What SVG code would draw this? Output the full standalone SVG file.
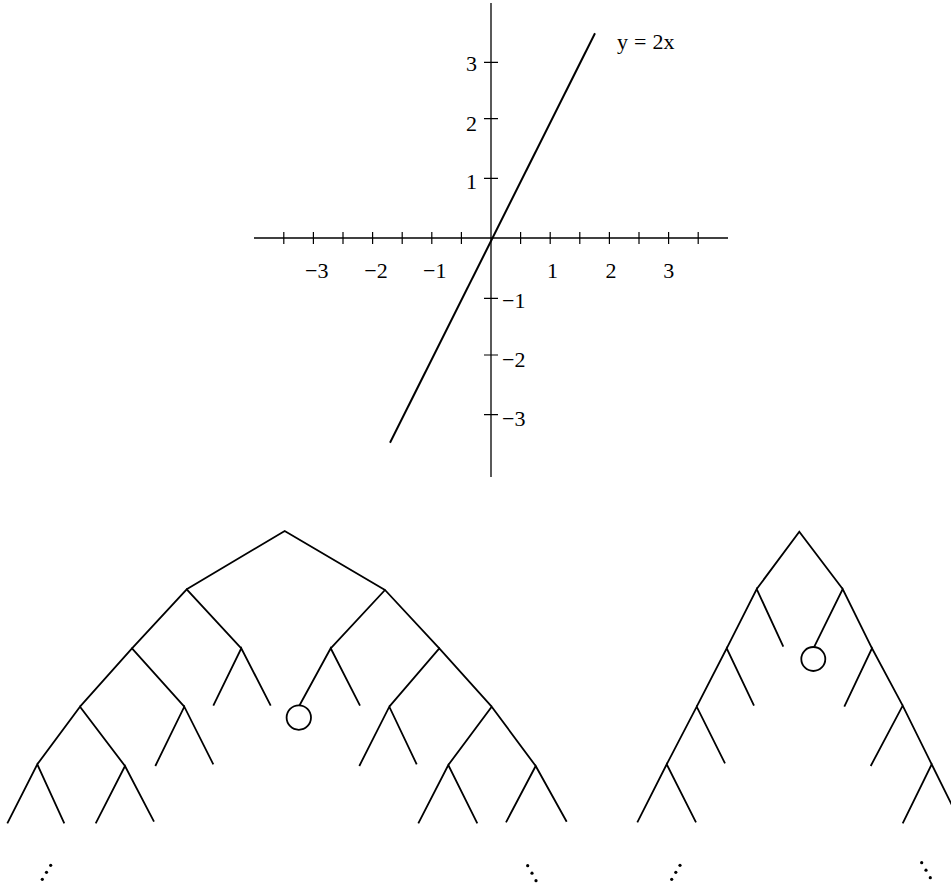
<svg xmlns="http://www.w3.org/2000/svg" width="951" height="888" viewBox="0 0 951 888">
<style>
.ax{stroke:#000;stroke-width:1.3;fill:none}
.tk{stroke:#000;stroke-width:1.2;fill:none}
.ln{stroke:#000;stroke-width:2;fill:none}
.e{stroke:#000;stroke-width:1.8;fill:none;stroke-linecap:butt}
.c{stroke:#000;stroke-width:1.8;fill:#fff}
.t{font-family:"Liberation Serif","Times New Roman",serif;font-size:22px;fill:#000}
.d{fill:#000}
</style>
<rect width="951" height="888" fill="#fff"/>
<g id="graph">
  <line class="ax" x1="254" y1="238" x2="728" y2="238"/>
  <line class="ax" x1="491" y1="3" x2="491" y2="477"/>
  <g id="xticks">
    <path class="tk" d="M283.8 232v12M313.4 232v12M343 232v12M372.6 232v12M402.2 232v12M431.8 232v12M461.4 232v12M520.6 232v12M550.2 232v12M579.8 232v12M609.4 232v12M639 232v12M668.6 232v12M698.2 232v12"/>
  </g>
  <g id="yticks">
    <path class="tk" d="M484 62.3h14M484 118.7h14M484 178.3h14M484 298.3h14M484 355h14M484 414.7h14"/>
  </g>
  <g id="xlabels" class="t" text-anchor="middle">
    <text x="316.7" y="277.7">−3</text>
    <text x="376" y="277.7">−2</text>
    <text x="434.7" y="277.7">−1</text>
    <text x="552.5" y="277.7">1</text>
    <text x="611" y="277.7">2</text>
    <text x="668.7" y="277.7">3</text>
  </g>
  <g id="ylabels" class="t">
    <text x="477" y="71" text-anchor="end">3</text>
    <text x="477" y="130.5" text-anchor="end">2</text>
    <text x="477" y="189" text-anchor="end">1</text>
    <text x="502" y="308">−1</text>
    <text x="502" y="366.7">−2</text>
    <text x="502" y="426">−3</text>
  </g>
  <line class="ln" x1="390" y1="442.7" x2="595" y2="33.3"/>
  <text class="t" x="617" y="49">y<tspan dx="6">=</tspan><tspan dx="6">2x</tspan></text>
</g>
<g id="tree-left">
  <g id="tree-left-edges">
    <path class="e" d="M186.7 589.3L284.7 531L385 590"/>
    <path class="e" d="M132 648.3L186.7 589.3L241.3 648.3"/>
    <path class="e" d="M213.3 705.7L241.3 648.3L270.7 705.7"/>
    <path class="e" d="M330.7 648.3L385 590L439.3 648.3"/>
    <path class="e" d="M299.3 705.7L330.7 648.3L360 705.7"/>
    <path class="e" d="M80 706.7L132 648.3L184.3 706.7"/>
    <path class="e" d="M37.3 764.3L80 706.7L125 766"/>
    <path class="e" d="M155.3 766L184.3 706.7L213.3 764.3"/>
    <path class="e" d="M7.3 823.3L37.3 764.3L64.3 823.3"/>
    <path class="e" d="M95.7 823.3L125 766L154 821.7"/>
    <path class="e" d="M389.3 706.7L439.3 648.3L491.7 706.7"/>
    <path class="e" d="M359.3 766L389.3 706.7L416.7 764.3"/>
    <path class="e" d="M448.3 765L491.7 706.7L535.7 766"/>
    <path class="e" d="M418.3 823.3L448.3 765L477.3 823.3"/>
    <path class="e" d="M506 822.3L535.7 766L566.7 821.7"/>
  </g>
  <g id="tree-left-node">
    <circle class="c" cx="298.8" cy="717.6" r="12.2"/>
  </g>
  <g id="tree-left-dots-l" class="d">
    <circle cx="50.7" cy="865.3" r="1.6"/><circle cx="46.5" cy="872.3" r="1.6"/><circle cx="42.3" cy="879.3" r="1.6"/>
  </g>
  <g id="tree-left-dots-r" class="d">
    <circle cx="527.7" cy="865.7" r="1.6"/><circle cx="532" cy="873.2" r="1.6"/><circle cx="536" cy="880.7" r="1.6"/>
  </g>
</g>
<g id="tree-right">
  <g id="tree-right-edges">
    <path class="e" d="M756.7 589L799.3 531.7L842.7 589"/>
    <path class="e" d="M726.7 648.3L756.7 589L783.3 646.7"/>
    <path class="e" d="M814.3 646.7L842.7 589L872 648.3"/>
    <path class="e" d="M696.7 706.7L726.7 648.3L754 705.7"/>
    <path class="e" d="M666.7 764.3L696.7 706.7L725 763.3"/>
    <path class="e" d="M637.3 822.3L666.7 764.3L696 822.3"/>
    <path class="e" d="M844.3 706.7L872 648.3L902.7 705.7"/>
    <path class="e" d="M870.7 766L902.7 705.7L931.7 764.3"/>
    <path class="e" d="M902.7 823.3L931.7 764.3L961 823.3"/>
  </g>
  <g id="tree-right-node">
    <circle class="c" cx="813.3" cy="659" r="12"/>
  </g>
  <g id="tree-right-dots-l" class="d">
    <circle cx="680" cy="865.3" r="1.6"/><circle cx="675.8" cy="872.3" r="1.6"/><circle cx="671.7" cy="879.3" r="1.6"/>
  </g>
  <g id="tree-right-dots-r" class="d">
    <circle cx="921.7" cy="862.7" r="1.6"/><circle cx="926" cy="870.2" r="1.6"/><circle cx="930.3" cy="877.7" r="1.6"/>
  </g>
</g>
</svg>
